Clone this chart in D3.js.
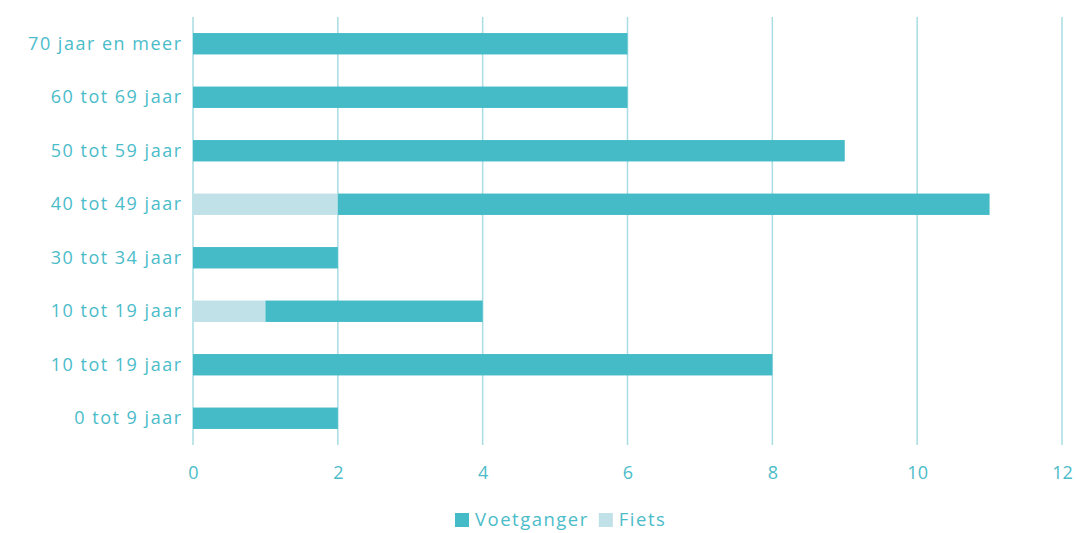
<!DOCTYPE html>
<html>
<head>
<meta charset="utf-8">
<script src="https://cdn.jsdelivr.net/npm/d3@7"></script>
<style>
  body { margin: 0; background: #fff; }
  svg text { font-family: "Open Sans", sans-serif; font-weight: 400; fill: #4bbcc9; letter-spacing: 1.5px; }
</style>
</head>
<body>
<svg id="chart" width="1076" height="533"></svg>
<script>
// categories top to bottom (two rows share the same label in the source)
const categories = ["70 jaar en meer", "60 tot 69 jaar", "50 tot 59 jaar", "40 tot 49 jaar",
                    "30 tot 34 jaar", "10 tot 19 jaar", "10 tot 19 jaar", "0 tot 9 jaar"];
const fiets      = [0, 0, 0, 2, 0, 1, 0, 0];
const voetganger = [6, 6, 9, 9, 2, 3, 8, 2];
const xTicks     = [0, 2, 4, 6, 8, 10, 12];

const seriesNames  = ["Fiets", "Voetganger"];
const seriesColors = { Fiets: "#bfe1e7", Voetganger: "#44bbc7" };

const svg = d3.select("#chart");
const m = { top: 17, right: 14, bottom: 88, left: 193 };
const W = 1076, H = 533;
const width  = W - m.left - m.right;
const height = H - m.top - m.bottom;

const rows = categories.map((c, i) => ({ i, label: c, Fiets: fiets[i], Voetganger: voetganger[i] }));

const x = d3.scaleLinear().domain([0, 12]).range([0, 869]);
const y = d3.scaleBand().domain(rows.map(d => d.i)).range([0, height]).paddingInner(0.6).paddingOuter(0.3);

const g = svg.append("g").attr("transform", `translate(${m.left},${m.top})`);

// gridlines
g.selectAll(".grid")
    .data(xTicks)
    .enter()
    .append("line")
    .attr("x1", d => x(d)).attr("x2", d => x(d))
    .attr("y1", 0).attr("y2", height)
    .attr("stroke", "#a9dde3")
    .attr("stroke-width", 1.5);

// stacked bars
const stack = d3.stack().keys(seriesNames)(rows);
g.selectAll(".layer")
    .data(stack)
    .enter()
    .append("g")
    .attr("fill", d => seriesColors[d.key])
    .selectAll("rect")
    .data(d => d)
    .enter()
    .append("rect")
    .attr("x", d => x(d[0]))
    .attr("y", d => y(d.data.i))
    .attr("width", d => x(d[1]) - x(d[0]))
    .attr("height", y.bandwidth());

// y labels
const yAxis = g.append("g")
    .call(d3.axisLeft(y).tickSize(0).tickPadding(10.5).tickFormat(i => categories[i]));
yAxis.select(".domain").remove();
yAxis.selectAll("text").style("font-size", "18px").attr("fill", "#4bbcc9")
    .attr("font-family", null);

// x labels
const xAxis = g.append("g")
    .attr("transform", `translate(0,${height})`)
    .call(d3.axisBottom(x).tickValues(xTicks).tickSize(0).tickPadding(21));
xAxis.select(".domain").remove();
xAxis.selectAll("text").style("font-size", "18px").style("letter-spacing", "0px")
    .attr("fill", "#4bbcc9").attr("font-family", null);

// legend
const legendItems = ["Voetganger", "Fiets"];
const legend = svg.append("g").attr("transform", "translate(455,512)");
let lx = 0;
legendItems.forEach(k => {
    const row = legend.append("g").attr("transform", `translate(${lx},0)`);
    row.append("rect").attr("y", 1).attr("width", 14).attr("height", 14).attr("fill", seriesColors[k]);
    const t = row.append("text").attr("x", 20).attr("y", 14).style("font-size", "18.5px").text(k);
    lx += 20 + t.node().getComputedTextLength() + 10;
});
</script>
</body>
</html>
